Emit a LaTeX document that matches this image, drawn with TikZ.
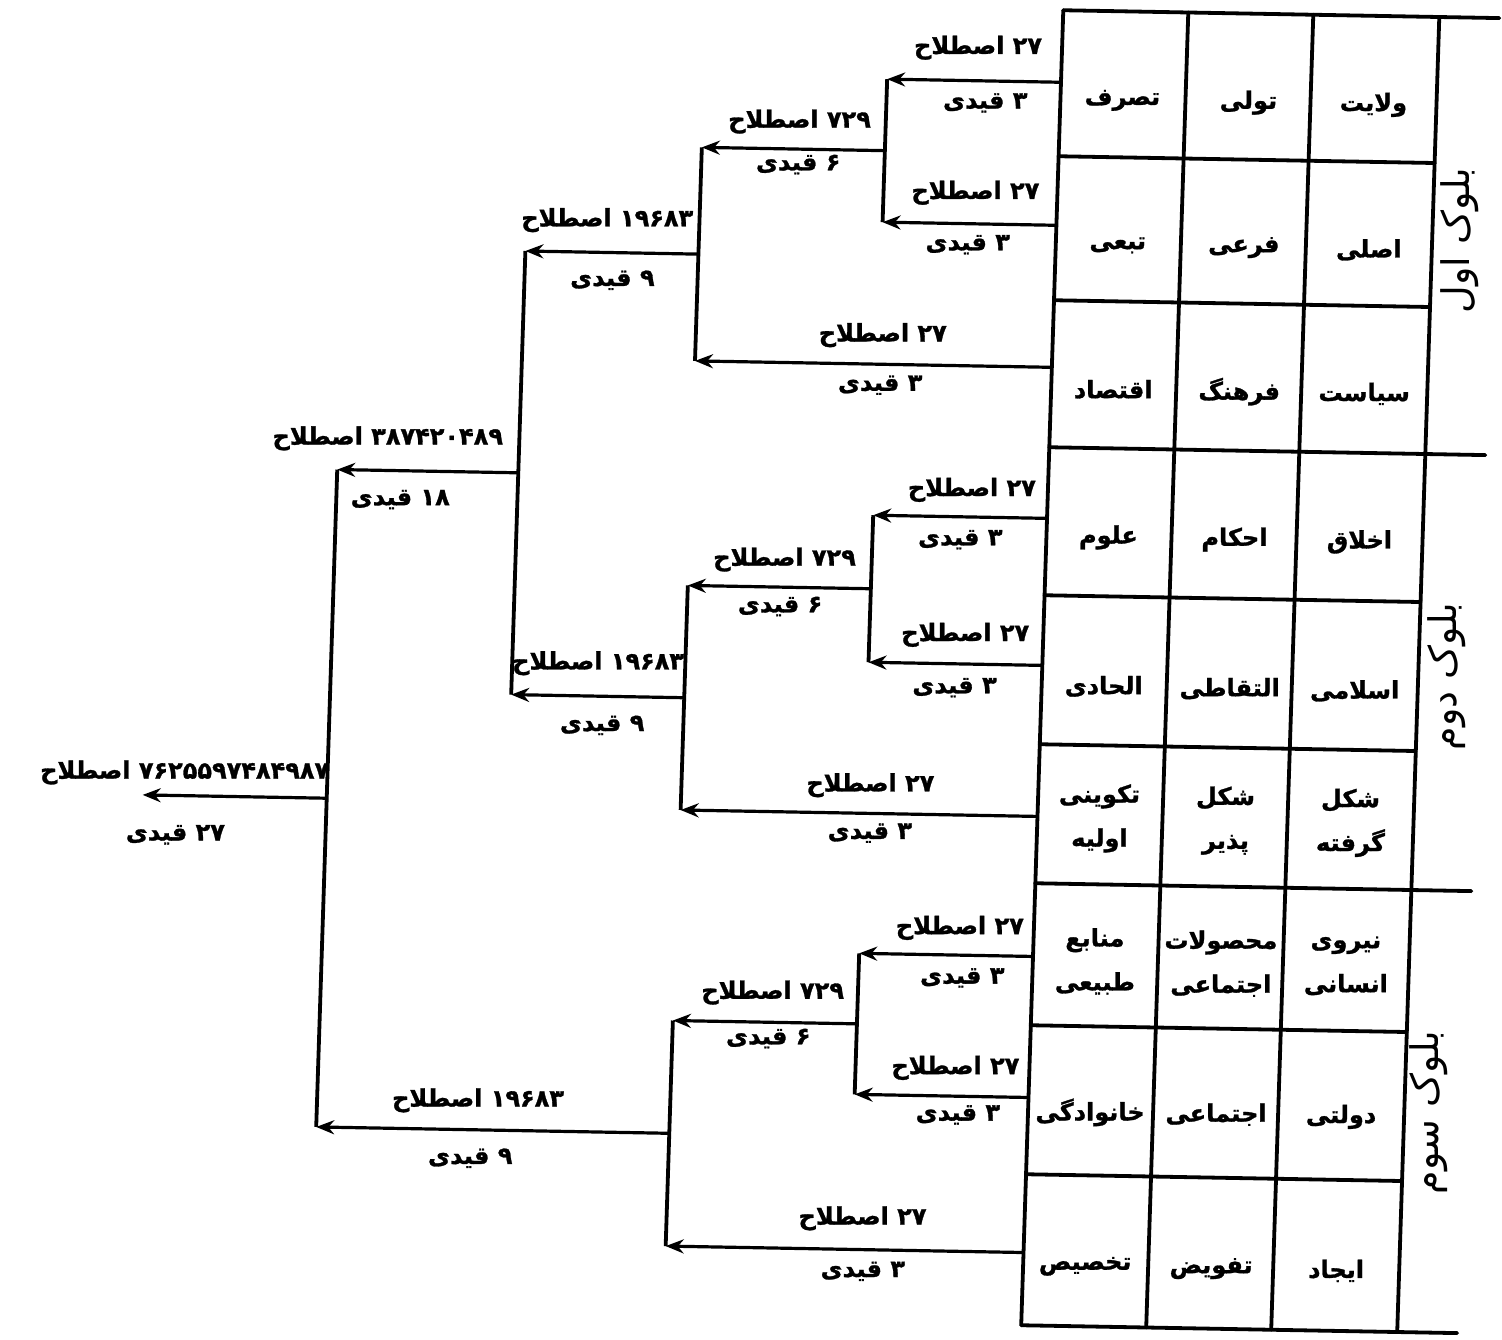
\documentclass[tikz,border=0pt]{standalone}
\usepackage{fontspec}
\usetikzlibrary{arrows.meta}
\newfontfamily\arabicfont[Script=Arabic,BoldFeatures={FakeBold=1.2}]{DejaVu Sans}
\TeXXeTstate=1
% Persian text helpers: bold cell/label text, plain block titles, numbers kept left-to-right
\newcommand\fa[1]{{\arabicfont\bfseries\beginR #1\endR}}
\newcommand\faplain[1]{{\arabicfont\beginR #1\endR}}
\newcommand\nm[1]{\beginL #1\endL{}}
\begin{document}
\begin{tikzpicture}[x=1pt,y=-1pt,
  gridline/.style={line width=3.8pt,line cap=round},
  brk/.style={line width=3.8pt,line cap=square},
  arr/.style={line width=3.2pt,-{Stealth[length=18pt,width=14pt]}},
  lbl/.style={font=\fontsize{24}{28}\selectfont,inner sep=0pt},
  cell/.style={font=\fontsize{24}{44}\selectfont,align=center,inner sep=0pt},
  blk/.style={font=\fontsize{38}{40}\selectfont,inner sep=0pt,rotate=90}]
\useasboundingbox (0,0) rectangle (1502,1339);
\fill[white] (0,0) rectangle (1502,1339);
\begin{scope}[shift={(751,670)},cm={1,-0.018,0.032,1,(0,0)},shift={(-751,-670)}]

% ---------------- table grid ----------------
\foreach \c in {1042,1167,1292,1418}
  \draw[gridline] (\c,5) -- (\c,1320);
\foreach \r in {5,442,878,1320}
  \draw[gridline] (1042,\r) -- (1478,\r);
\foreach \r in {151,295,590,739,1020,1169}
  \draw[gridline] (1042,\r) -- (1418,\r);

% ---------------- cells ----------------
\node[cell] (c11) at (1104,94)  {\fa{تصرف}};
\node[cell] (c12) at (1230,94)  {\fa{تولی}};
\node[cell] (c13) at (1355,94)  {\fa{ولایت}};
\node[cell] (c21) at (1104,239) {\fa{تبعی}};
\node[cell] (c22) at (1230,239) {\fa{فرعی}};
\node[cell] (c23) at (1355,239) {\fa{اصلی}};
\node[cell] (c31) at (1104,383) {\fa{اقتصاد}};
\node[cell] (c32) at (1230,383) {\fa{فرهنگ}};
\node[cell] (c33) at (1355,383) {\fa{سیاست}};

\node[cell] (c41) at (1104,531) {\fa{علوم}};
\node[cell] (c42) at (1230,531) {\fa{احکام}};
\node[cell] (c43) at (1355,531) {\fa{اخلاق}};
\node[cell] (c51) at (1104,680) {\fa{الحادی}};
\node[cell] (c52) at (1230,680) {\fa{التقاطی}};
\node[cell] (c53) at (1355,680) {\fa{اسلامی}};
\node[cell] (c61) at (1104,812) {\fa{تکوینی}\\\fa{اولیه}};
\node[cell] (c62) at (1230,812) {\fa{شکل}\\\fa{پذیر}};
\node[cell] (c63) at (1355,812) {\fa{شکل}\\\fa{گرفته}};

\node[cell] (c71) at (1104,955)  {\fa{منابع}\\\fa{طبیعی}};
\node[cell] (c72) at (1230,955)  {\fa{محصولات}\\\fa{اجتماعی}};
\node[cell] (c73) at (1355,955)  {\fa{نیروی}\\\fa{انسانی}};
\node[cell] (c81) at (1104,1106) {\fa{خانوادگی}};
\node[cell] (c82) at (1230,1106) {\fa{اجتماعی}};
\node[cell] (c83) at (1355,1106) {\fa{دولتی}};
\node[cell] (c91) at (1104,1260) {\fa{تخصیص}};
\node[cell] (c92) at (1230,1260) {\fa{تفویض}};
\node[cell] (c93) at (1355,1260) {\fa{ایجاد}};

% block titles in the last column
\node[blk] (blk1) at (1446,228)  {\faplain{بلوک اول}};
\node[blk] (blk2) at (1446,664)  {\faplain{بلوک دوم}};
\node[blk] (blk3) at (1442,1100) {\faplain{بلوک سوم}};

% ---------------- tree joints ----------------
\coordinate (t1) at (1042,77);
\coordinate (t2) at (1042,220);
\coordinate (t3) at (1042,362);
\coordinate (t4) at (1042,513);
\coordinate (t5) at (1042,660);
\coordinate (t6) at (1042,811);
\coordinate (t7) at (1042,951);
\coordinate (t8) at (1042,1092);
\coordinate (t9) at (1042,1247);

\coordinate (a1t) at (868,77);   \coordinate (a1b) at (868,220);  \coordinate (a1m) at (868,148.5);
\coordinate (b1t) at (685,148.5);\coordinate (b1b) at (685,362);  \coordinate (b1m) at (685,255.25);
\coordinate (a2t) at (868,513);  \coordinate (a2b) at (868,660);  \coordinate (a2m) at (868,586.5);
\coordinate (b2t) at (685,586.5);\coordinate (b2b) at (685,811);  \coordinate (b2m) at (685,698.75);
\coordinate (ct)  at (512,255.25);\coordinate (cb) at (512,698.75);\coordinate (cmid) at (512,477);
\coordinate (a3t) at (868,951);  \coordinate (a3b) at (868,1092); \coordinate (a3m) at (868,1021.5);
\coordinate (b3t) at (684,1021.5);\coordinate (b3b) at (684,1247);\coordinate (b3m) at (684,1134.25);
\coordinate (dt)  at (331,477);  \coordinate (db) at (331,1134.25);\coordinate (dm) at (331,805.6);
\coordinate (dend) at (147,805.6);

% ---------------- connectors ----------------
\draw[arr] (t1) -- (a1t);
\draw[arr] (t2) -- (a1b);
\draw[brk] (a1t) -- (a1b);
\draw[arr] (a1m) -- (b1t);
\draw[arr] (t3) -- (b1b);
\draw[brk] (b1t) -- (b1b);
\draw[arr] (b1m) -- (ct);

\draw[arr] (t4) -- (a2t);
\draw[arr] (t5) -- (a2b);
\draw[brk] (a2t) -- (a2b);
\draw[arr] (a2m) -- (b2t);
\draw[arr] (t6) -- (b2b);
\draw[brk] (b2t) -- (b2b);
\draw[arr] (b2m) -- (cb);
\draw[brk] (ct) -- (cb);
\draw[arr] (cmid) -- (dt);

\draw[arr] (t7) -- (a3t);
\draw[arr] (t8) -- (a3b);
\draw[brk] (a3t) -- (a3b);
\draw[arr] (a3m) -- (b3t);
\draw[arr] (t9) -- (b3b);
\draw[brk] (b3t) -- (b3b);
\draw[arr] (b3m) -- (db);
\draw[brk] (dt) -- (db);
\draw[arr] (dm) -- (dend);

% ---------------- labels ----------------
\node[lbl] (l1a) at (958,44)  {\fa{\nm{۲۷} اصطلاح}};
\node[lbl] (l1b) at (967,99)  {\fa{\nm{۳} قیدی}};
\node[lbl] (l2a) at (960,189) {\fa{\nm{۲۷} اصطلاح}};
\node[lbl] (l2b) at (954,241) {\fa{\nm{۳} قیدی}};
\node[lbl] (m1a) at (782,121) {\fa{\nm{۷۲۹} اصطلاح}};
\node[lbl] (m1b) at (782,164) {\fa{\nm{۶} قیدی}};
\node[lbl] (l3a) at (872,333) {\fa{\nm{۲۷} اصطلاح}};
\node[lbl] (l3b) at (871,383) {\fa{\nm{۳} قیدی}};
\node[lbl] (n1a) at (593,223) {\fa{\nm{۱۹۶۸۳} اصطلاح}};
\node[lbl] (n1b) at (600,283) {\fa{\nm{۹} قیدی}};

\node[lbl] (l4a) at (966,486) {\fa{\nm{۲۷} اصطلاح}};
\node[lbl] (l4b) at (956,536) {\fa{\nm{۳} قیدی}};
\node[lbl] (l5a) at (964,631) {\fa{\nm{۲۷} اصطلاح}};
\node[lbl] (l5b) at (955,684) {\fa{\nm{۳} قیدی}};
\node[lbl] (m2a) at (781,559) {\fa{\nm{۷۲۹} اصطلاح}};
\node[lbl] (m2b) at (778,606) {\fa{\nm{۶} قیدی}};
\node[lbl] (l6a) at (874,783) {\fa{\nm{۲۷} اصطلاح}};
\node[lbl] (l6b) at (875,831) {\fa{\nm{۳} قیدی}};
\node[lbl] (n2a) at (598,666) {\fa{\nm{۱۹۶۸۳} اصطلاح}};
\node[lbl] (n2b) at (604,728) {\fa{\nm{۹} قیدی}};

\node[lbl,anchor=east] (pa) at (496,443) {\fa{\nm{۳۸۷۴۲۰۴۸۹} اصطلاح}};
\node[lbl] (pb) at (395,506) {\fa{\nm{۱۸} قیدی}};

\node[lbl] (l7a) at (968,924)  {\fa{\nm{۲۷} اصطلاح}};
\node[lbl] (l7b) at (972,974)  {\fa{\nm{۳} قیدی}};
\node[lbl] (l8a) at (968,1064) {\fa{\nm{۲۷} اصطلاح}};
\node[lbl] (l8b) at (972,1111) {\fa{\nm{۳} قیدی}};
\node[lbl] (m3a) at (783,992)  {\fa{\nm{۷۲۹} اصطلاح}};
\node[lbl] (m3b) at (780,1038) {\fa{\nm{۶} قیدی}};
\node[lbl] (l9a) at (880,1216) {\fa{\nm{۲۷} اصطلاح}};
\node[lbl] (l9b) at (882,1269) {\fa{\nm{۳} قیدی}};
\node[lbl] (n3a) at (492,1105) {\fa{\nm{۱۹۶۸۳} اصطلاح}};
\node[lbl] (n3b) at (486,1163) {\fa{\nm{۹} قیدی}};

\node[lbl,anchor=east] (qa) at (333,780) {\fa{\nm{۷۶۲۵۵۹۷۴۸۴۹۸۷} اصطلاح}};
\node[lbl] (qb) at (181,845) {\fa{\nm{۲۷} قیدی}};

\end{scope}
\end{tikzpicture}
\end{document}
